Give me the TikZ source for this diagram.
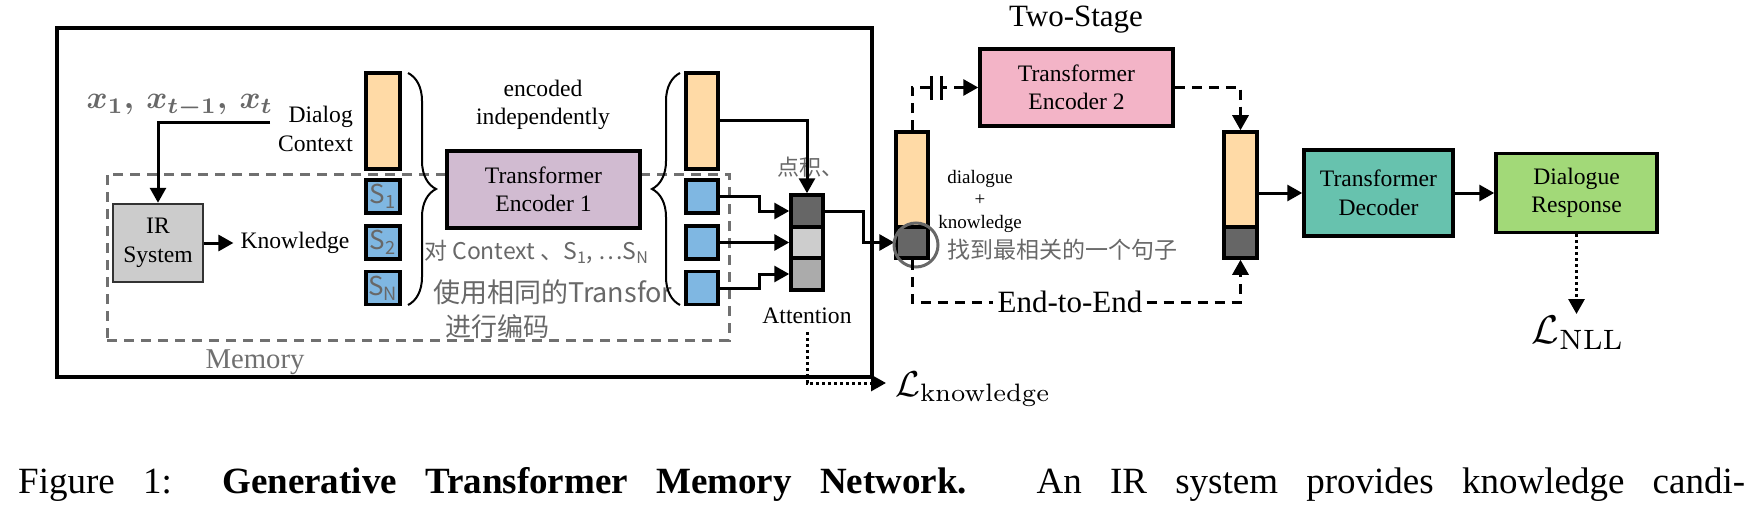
\documentclass[tikz,border=0pt]{standalone}
\usepackage[no-math]{fontspec}
\setmainfont{Liberation Serif}
\newfontfamily\cjk{Noto Sans CJK SC}
\usetikzlibrary{arrows.meta,decorations.pathreplacing,calc}
\definecolor{orng}{HTML}{FFDAA6}
\definecolor{blu}{HTML}{7FB7E2}
\definecolor{purp}{HTML}{D1BBD1}
\definecolor{pnk}{HTML}{F3B4C7}
\definecolor{teal2}{HTML}{67C2AE}
\definecolor{grn}{HTML}{A2D978}
\definecolor{irg}{HTML}{CCCCCC}
\definecolor{dk}{HTML}{666666}
\definecolor{lt}{HTML}{CDCDCD}
\definecolor{md}{HTML}{ABABAB}
\definecolor{hw}{HTML}{686868}
\definecolor{memg}{HTML}{707070}
\newcommand\fsz[2]{\fontsize{#1}{#2}\selectfont}
\newcommand\hwS[1]{\textcolor{hw}{\cjk\fsz{26}{26}S\textsubscript{#1}}}
\newcommand\bigmath[2]{\scalebox{#1}{\fsz{10}{12}$#2$}}
\newcommand\bigmathb[2]{\scalebox{#1}{\fsz{10}{12}\boldmath$#2$}}
\begin{document}
\begin{tikzpicture}[x=1pt,y=-1pt,
  >={Triangle[length=15pt,width=16pt]},
  blk/.style={draw, line width=3.5pt, inner sep=0pt, align=center, font=\fsz{23.6}{28.5}},
  cell/.style={draw, line width=3.5pt, inner sep=0pt},
  conn/.style={line width=3pt},
  dconn/.style={line width=3pt, dash pattern=on 10pt off 7pt},
  dotc/.style={line width=3pt, dash pattern=on 3pt off 3pt},
  lbl/.style={inner sep=0pt, align=center, font=\fsz{23.6}{28.5}},
  hand/.style={inner sep=0pt, text=hw, font=\cjk\fsz{#1}{#1}},
  br/.style={line width=2pt, decorate, decoration={brace, amplitude=28pt}},
]
\useasboundingbox (0,0) rectangle (1756,516);

% frames
\node[draw, line width=3.5pt, inner sep=0pt, minimum width=815pt, minimum height=349pt] (outer) at (464.5,202.5) {};
\node[draw=memg, line width=3pt, dash pattern=on 10pt off 7pt, inner sep=0pt, minimum width=622pt, minimum height=166pt] (mem) at (418,257) {};
\node[inner sep=0pt, text=memg, font=\fsz{28.7}{30}] (memlbl) at (255,362) {Memory};

% left part
\node[blk, fill=irg, draw=black!80, line width=2.5pt, minimum width=90pt, minimum height=78pt] (ir) at (158,243) {IR\\System};
\node[lbl, inner xsep=7pt] (know) at (295,243) {Knowledge};
\draw[conn,->] (ir.east) -- (know.west);

\node[inner sep=0pt, text=hw] (xs) at (180,106) {\bigmathb{3.2}{x_1,\,x_{t-1},\,x_t}};
\coordinate (ulE) at (270,123);
\coordinate (ulC) at (158,123);
\draw[conn,->] (ulE) -- (ulC) -- (ir.north);

\node[lbl, align=right, anchor=east] (dc) at (353,129) {Dialog\\Context};

\node[cell, fill=orng, minimum width=34pt, minimum height=96pt] (ctx) at (383,121) {};
\node[cell, fill=blu, minimum width=34pt, minimum height=33pt] (s1) at (383,196.5) {\hwS{1}};
\node[cell, fill=blu, minimum width=34pt, minimum height=33pt] (s2) at (383,242.5) {\hwS{2}};
\node[cell, fill=blu, minimum width=34pt, minimum height=33pt] (sN) at (383,288) {\hwS{N}};

\draw[br] (408,73) -- (408,305);

\node[lbl] (enc) at (543,105) {encoded\\independently};
\node[blk, fill=purp, minimum width=193pt, minimum height=77pt] (te1) at (543.5,189.5) {Transformer\\Encoder 1};

\node[hand=23, anchor=west] (h1) at (424,252) {对 Context 、S\textsubscript{1}, …S\textsubscript{N}};
\node[hand=27, anchor=west] (h2) at (433,292) {使用相同的Transfor};
\node[hand=26, anchor=west] (h3) at (445,327) {进行编码};

\draw[br] (680,305) -- (680,73);

\node[cell, fill=orng, minimum width=32pt, minimum height=96pt] (ctx2) at (702,121) {};
\node[cell, fill=blu, minimum width=32pt, minimum height=33pt] (b1) at (702,196.5) {};
\node[cell, fill=blu, minimum width=32pt, minimum height=33pt] (b2) at (702,242.5) {};
\node[cell, fill=blu, minimum width=32pt, minimum height=33pt] (b3) at (702,288) {};

% attention
\node[cell, fill=dk, minimum width=32pt, minimum height=32pt] (a1) at (807,211) {};
\node[cell, fill=lt, minimum width=32pt, minimum height=31pt] (a2) at (807,242.5) {};
\node[cell, fill=md, minimum width=32pt, minimum height=32pt] (a3) at (807,274) {};
\node[hand=22] (dj) at (810,167) {点积、};
\node[lbl, inner ysep=8pt] (attn) at (807,316) {Attention};

\draw[conn,->] (ctx2.east) -| (a1.north);
\draw[conn,->] (b1.east) -- ++(40,0) |- (a1.west);
\draw[conn,->] (b2.east) -- (a2.west);
\draw[conn,->] (b3.east) -- ++(40,0) |- (a3.west);

\coordinate (lkin) at (886,383);
\node[anchor=base west, inner sep=0pt] (lk) at (895,396) {\bigmath{3.6}{\mathcal{L}_{\mathrm{knowledge}}}};
\draw[dotc,->] (attn.south) |- (lkin);

% middle bar
\node[cell, fill=orng, minimum width=32pt, minimum height=95pt] (midt) at (912,179.5) {};
\node[cell, fill=dk, minimum width=32pt, minimum height=31pt] (midd) at (912,242.5) {};
\draw[conn,->] (a1.east) -- ++(39,0) |- (midd.west);

\node[inner sep=0pt, align=center, font=\fsz{19}{22.5}] (dkl) at (980,201) {dialogue\\+\\knowledge};
\node[draw=hw, circle, line width=3pt, minimum size=44pt, inner sep=0pt] (circ) at (916,245) {};
\node[hand=23, anchor=west] (h4) at (947,250) {找到最相关的一个句子};

% two-stage
\node[inner sep=0pt, font=\fsz{31}{31}] (ts) at (1076,20) {Two-Stage};
\node[blk, fill=pnk, minimum width=193pt, minimum height=77pt] (te2) at (1076.5,87.5) {Transformer\\Encoder 2};

\node[cell, fill=orng, minimum width=33pt, minimum height=95pt] (rtt) at (1240.5,179.5) {};
\node[cell, fill=dk, minimum width=33pt, minimum height=31pt] (rtd) at (1240.5,242.5) {};

\draw[dconn,->] (midt.north) |- (te2.west);
\fill[white] (932,78) rectangle (940,98);
\draw[line width=3pt] (931,76) -- (931,100) (941,76) -- (941,100);
\draw[dconn,->] (te2.east) -| (rtt.north);

% end-to-end
\node[inner xsep=4pt, inner ysep=0pt, font=\fsz{31}{31}] (ee) at (1070,302) {End-to-End};
\draw[dconn] (midd.south) |- (ee.west);
\draw[dconn,->] (ee.east) -| (rtd.south);

% decoder
\node[blk, fill=teal2, minimum width=149pt, minimum height=86pt] (dec) at (1378.5,193) {Transformer\\Decoder};
\node[blk, fill=grn, minimum width=161pt, minimum height=79pt] (resp) at (1576.5,193) {Dialogue\\Response};
\draw[conn,->] (rtt.east |- dec.west) -- (dec.west);
\draw[conn,->] (dec.east) -- (resp.west);

\node[anchor=north, inner sep=2pt] (lnll) at (1578,314) {\bigmath{4}{\mathcal{L}_{\mathrm{NLL}}}};
\draw[dotc,->] (resp.south) -- (resp.south |- lnll.north);

% caption
\node[anchor=base west, inner sep=0pt, font=\fsz{37}{42}] (cap) at (18,493) {\makebox[1727pt][s]{Figure 1: \textbf{Generative Transformer Memory Network.} An IR system provides knowledge candi-}};
\end{tikzpicture}
\end{document}
